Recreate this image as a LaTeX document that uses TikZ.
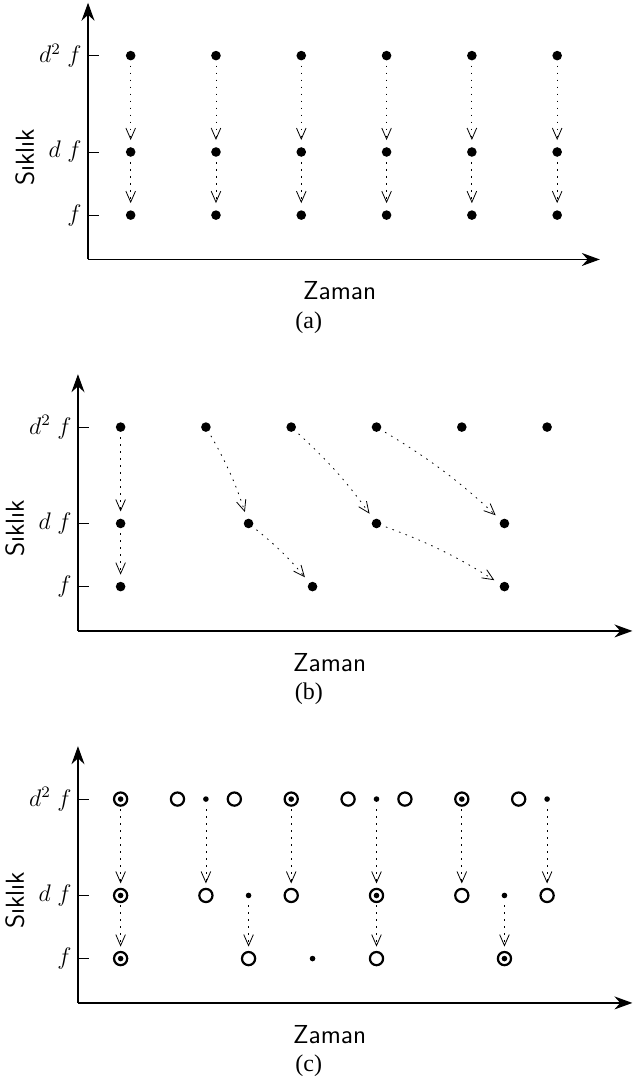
\documentclass[tikz,border=0pt]{standalone}
\usepackage{fontspec}
\newfontfamily\capfont{Liberation Serif}
\usetikzlibrary{arrows.meta,positioning,calc}

\begin{document}
\begin{tikzpicture}[
    x=1.5cm, y=1.5cm,
    axis/.style={line width=0.6pt, -{Stealth[length=9pt,width=6.5pt]}},
    tickmark/.style={line width=0.4pt},
    bigdot/.style={circle, fill, inner sep=0pt, minimum size=4.8pt},
    smalldot/.style={circle, fill, inner sep=0pt, minimum size=2.8pt},
    ring/.style={circle, draw, line width=1.1pt, inner sep=0pt, minimum size=6.6pt},
    jump/.style={line width=0.4pt, dash pattern=on 0.8pt off 2.7pt,
                 shorten <=5pt, shorten >=6pt,
                 -{Straight Barb[length=5.5pt,width=4.8pt]}},
    lbl/.style={font=\fontsize{13}{15}\selectfont\sffamily},
    subcap/.style={font=\fontsize{12}{14}\selectfont\capfont}
]
\useasboundingbox (0,0) rectangle (7.42,-12.685);

% axes, ticks and captions of the three panels
\foreach \p/\ox/\oy/\len in {a/1.032/-3.042/6.0, b/0.914/-7.397/6.5, c/0.914/-11.758/6.5} {
  \begin{scope}[shift={(\ox,\oy)}]
    \coordinate (o\p) at (0,0);
    \coordinate (y\p) at (0,3.01);
    \coordinate (x\p) at (\len,0);
    \draw[axis] (o\p) -- (y\p);
    \draw[axis] (o\p) -- (x\p);
    \foreach \r/\t in {0.52/f, 1.26/d\;f, 2.39/d^2\;f}
      \draw[tickmark] (0,\r) -- (0.13,\r)
        node[pos=0, left, inner sep=3pt, font=\large] {$\t$};
    \node[lbl, rotate=90] (siklik\p) at (-0.74,1.2) {Sıklık};
    \node[lbl] (zaman\p) at (2.95,-0.37) {Zaman};
  \end{scope}
  \node[subcap] (cap\p) at (3.62,\oy-0.74) {(\p)};
}

% (a)
\begin{scope}[shift={(1.032,-3.042)}]
  \foreach \k in {0,...,5} {
    \node[bigdot] (a2\k) at (\k+0.5,2.39) {};
    \node[bigdot] (a1\k) at (\k+0.5,1.26) {};
    \node[bigdot] (a0\k) at (\k+0.5,0.52) {};
    \draw[jump] (a2\k.center) -- (a1\k.center);
    \draw[jump] (a1\k.center) -- (a0\k.center);
  }
\end{scope}

% (b)
\begin{scope}[shift={(0.914,-7.397)}]
  \foreach \k in {0,...,5}
    \node[bigdot] (b2\k) at (\k+0.5,2.39) {};
  \foreach \j in {0,...,3}
    \node[bigdot] (b1\j) at (1.5*\j+0.5,1.26) {};
  \foreach \i in {0,...,2}
    \node[bigdot] (b0\i) at (2.25*\i+0.5,0.52) {};
  \draw[jump] (b20.center) -- (b10.center);
  \draw[jump] (b10.center) -- (b00.center);
  \foreach \j in {1,2,3}
    \draw[jump] (b2\j.center) to[bend left=6] (b1\j.center);
  \foreach \i in {1,2}
    \draw[jump] (b1\i.center) to[bend left=6] (b0\i.center);
\end{scope}

% (c)
\begin{scope}[shift={(0.914,-11.758)}]
  \foreach \m in {0,...,7}
    \node[ring] (c2r\m) at (2*\m/3+0.5,2.39) {};
  \foreach \k in {0,...,5} {
    \node[smalldot] (c2d\k) at (\k+0.5,2.39) {};
    \node[ring] (c1r\k) at (\k+0.5,1.26) {};
  }
  \foreach \j in {0,...,3} {
    \node[smalldot] (c1d\j) at (1.5*\j+0.5,1.26) {};
    \node[ring] (c0r\j) at (1.5*\j+0.5,0.52) {};
  }
  \foreach \i in {0,...,2}
    \node[smalldot] (c0d\i) at (2.25*\i+0.5,0.52) {};
  \foreach \k in {0,...,5}
    \draw[jump] (c2d\k.center) -- (c1r\k.center);
  \foreach \j in {0,...,3}
    \draw[jump] (c1d\j.center) -- (c0r\j.center);
\end{scope}
\end{tikzpicture}
\end{document}
